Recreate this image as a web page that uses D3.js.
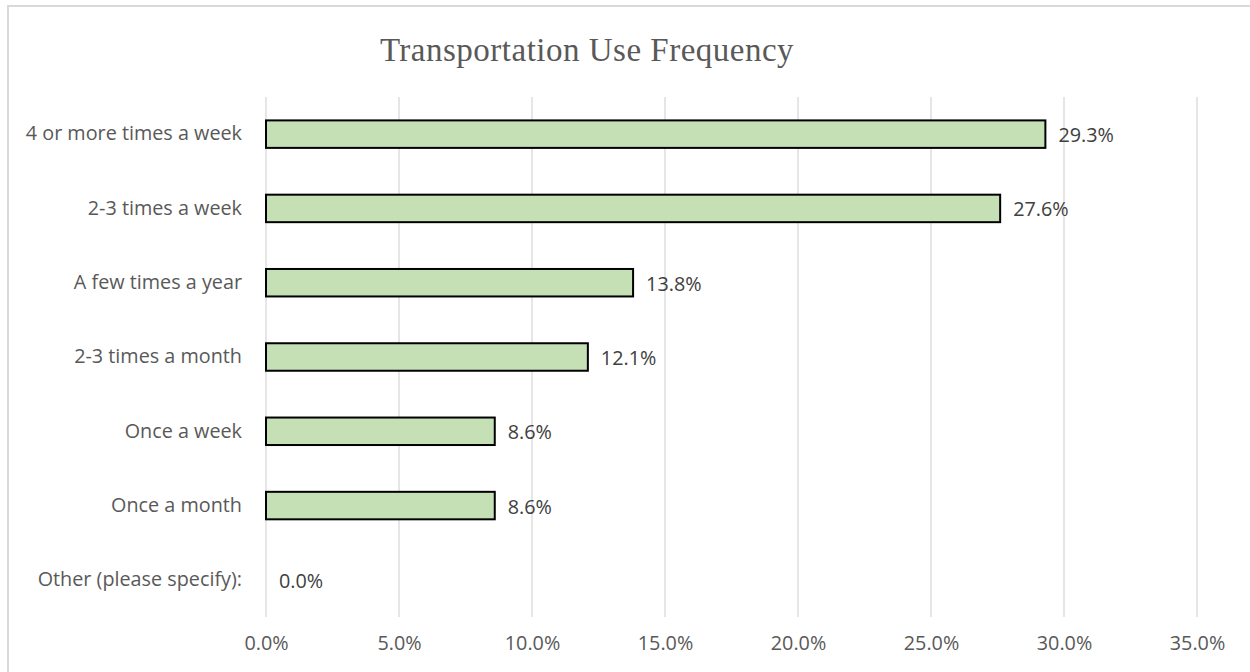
<!DOCTYPE html>
<html>
<head>
<meta charset="utf-8">
<script src="https://cdn.jsdelivr.net/npm/d3@7"></script>
<style>
  body { margin: 0; background: #fff; }
  svg { display: block; }
  .axis path, .axis line { display: none; }
  .axis text { font-family: "Open Sans", Lato, sans-serif; font-size: 19.8px; fill: #595959; }
</style>
</head>
<body>
<div id="bar_chart"></div>
<script>
// chart data
let categories = ['4 or more times a week', '2-3 times a week', 'A few times a year',
    '2-3 times a month', 'Once a week', 'Once a month', 'Other (please specify):'];
let values = [29.3, 27.6, 13.8, 12.1, 8.6, 8.6, 0.0];
let xTicks = [0, 5, 10, 15, 20, 25, 30, 35];

let config = {
    svg: { width: 1250, height: 672 },
    plot: { x: 266, y: 97, width: 931, height: 520 }
};

let svg = d3.select('#bar_chart')
    .append('svg')
        .attr('width', config.svg.width)
        .attr('height', config.svg.height);

// chart area border (top + left visible)
svg.append('path')
    .attr('d', 'M8,680 L8,6 L1260,6')
    .attr('fill', 'none')
    .attr('stroke', '#d9d9d9')
    .attr('stroke-width', 2);

svg.append('text')
    .attr('x', 587)
    .attr('y', 61)
    .attr('text-anchor', 'middle')
    .style('font-family', '"Liberation Serif", "DejaVu Serif", serif')
    .style('font-size', '33px')
    .style('letter-spacing', '0.5px')
    .style('fill', '#595959')
    .text('Transportation Use Frequency');

let plot = svg.append('g')
    .attr('transform', translate(config.plot.x, config.plot.y));

let x = d3.scaleLinear().domain([0, 35]).range([0, config.plot.width]);
let y = d3.scaleBand().domain(categories).range([0, config.plot.height])
    .paddingInner(0.63).paddingOuter(0.315);

// gridlines
plot.selectAll('.grid')
    .data(xTicks)
    .enter()
    .append('line')
        .attr('class', 'grid')
        .attr('x1', (d) => x(d))
        .attr('x2', (d) => x(d))
        .attr('y1', 0)
        .attr('y2', config.plot.height)
        .attr('stroke', '#d9d9d9')
        .attr('stroke-width', 1.3);

// x axis labels
plot.append('g')
    .attr('class', 'axis axis--x')
    .attr('transform', translate(0, config.plot.height + 16))
    .call(d3.axisBottom(x).tickValues(xTicks).tickSize(0).tickFormat((d) => d.toFixed(1) + '%'))
    .selectAll('text').attr('dy', '0.71em');

// y axis labels
plot.append('g')
    .attr('class', 'axis axis--y')
    .attr('transform', translate(-21, 0))
    .call(d3.axisLeft(y).tickSize(0));

// bars
plot.selectAll('.bar')
    .data(values.map((v, i) => ({ cat: categories[i], val: v })))
    .enter()
    .append('rect')
        .attr('class', 'bar')
        .attr('x', x(0))
        .attr('y', (d) => y(d.cat))
        .attr('width', (d) => x(d.val) - x(0))
        .attr('height', y.bandwidth())
        .attr('fill', '#c5e0b4')
        .attr('stroke', (d) => d.val > 0 ? '#000' : 'none')
        .attr('stroke-width', 2);

// value labels
plot.selectAll('.label')
    .data(values.map((v, i) => ({ cat: categories[i], val: v })))
    .enter()
    .append('text')
        .attr('class', 'label')
        .attr('x', (d) => x(d.val) + 13)
        .attr('y', (d) => y(d.cat) + y.bandwidth() / 2 + 1)
        .attr('dy', '0.35em')
        .style('font-family', '"Open Sans", Lato, sans-serif')
        .style('font-size', '19.8px')
        .style('fill', '#404040')
        .text((d) => d.val.toFixed(1) + '%');

// helper method to make translating easier
function translate(x, y) {
    return 'translate(' + x + ',' + y + ')';
}
</script>
</body>
</html>
